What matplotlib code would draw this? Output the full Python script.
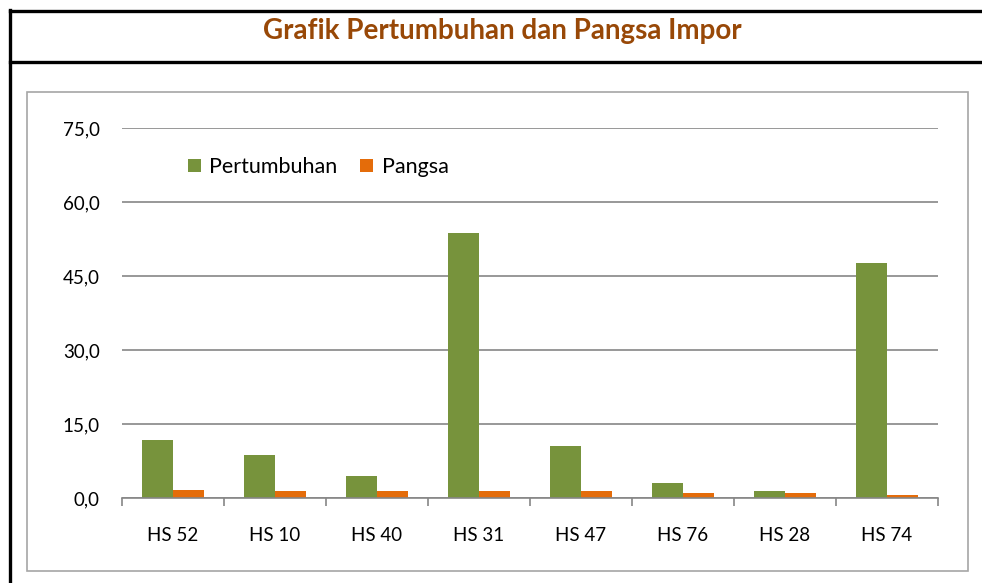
import matplotlib
matplotlib.use("Agg")
import matplotlib.pyplot as plt
from matplotlib.lines import Line2D
from matplotlib.patches import Rectangle
import numpy as np

categories = ["HS 52", "HS 10", "HS 40", "HS 31", "HS 47", "HS 76", "HS 28", "HS 74"]
pertumbuhan = [11.8, 8.8, 4.5, 53.7, 10.6, 3.1, 1.5, 47.6]
pangsa = [1.7, 1.5, 1.5, 1.5, 1.5, 1.0, 1.0, 0.6]
yticks = [0, 15, 30, 45, 60, 75]
ytick_labels = ["0,0", "15,0", "30,0", "45,0", "60,0", "75,0"]

plt.rcParams['font.family'] = ['Lato', 'DejaVu Sans']

W, H = 982, 583
fig = plt.figure(figsize=(W / 100, H / 100), dpi=100)

def fx(px):
    return px / W

def fy(py):
    return 1 - py / H

# outer black frame
fig.add_artist(Line2D([fx(10), fx(10)], [fy(10), fy(583)], color="black", lw=2.4, transform=fig.transFigure))
fig.add_artist(Line2D([fx(10), fx(982)], [fy(11), fy(11)], color="black", lw=2.4, transform=fig.transFigure))
fig.add_artist(Line2D([fx(10), fx(982)], [fy(62), fy(62)], color="black", lw=2.4, transform=fig.transFigure))

# inner gray chart border
fig.add_artist(Rectangle((fx(27), fy(571)), fx(968) - fx(27), fy(92) - fy(571),
                         fill=False, edgecolor="#A6A6A6", lw=1.2, transform=fig.transFigure))

fig.text(fx(502), fy(31), "Grafik Pertumbuhan dan Pangsa Impor", ha="center", va="center",
         fontsize=20, fontweight="bold", color="#984807")

ax = fig.add_axes([fx(122), fy(498), fx(938) - fx(122), fy(128) - fy(498)])
x = np.arange(len(categories))
bw = 0.3
ax.bar(x - bw / 2, pertumbuhan, width=bw, color="#77933C", label="Pertumbuhan", zorder=3)
ax.bar(x + bw / 2, pangsa, width=bw, color="#E46C0A", label="Pangsa", zorder=3)

ax.set_xlim(-0.5, len(categories) - 0.5)
ax.set_ylim(0, 75)
ax.set_yticks(yticks)
ax.set_yticklabels(ytick_labels, fontsize=13.5)
ax.tick_params(axis="y", length=0, pad=16)
ax.yaxis.grid(True, color="#868686", lw=1.2, zorder=0)
ax.set_axisbelow(True)

ax.set_xticks(x)
ax.set_xticklabels(categories, fontsize=13.5)
ax.tick_params(axis="x", length=0, pad=21)
ax.set_xticks(np.arange(-0.5, len(categories) + 0.5, 1), minor=True)
ax.tick_params(axis="x", which="minor", length=6, color="#868686", width=1.2, direction="out")

for s in ["top", "right", "left"]:
    ax.spines[s].set_visible(False)
ax.spines["bottom"].set_color("#868686")
ax.spines["bottom"].set_linewidth(1.2)
ax.spines["bottom"].set_zorder(4)

leg = ax.legend(loc="upper left", bbox_to_anchor=(fx(201) - fx(122), 1 - (157 - 128) / 370),
                bbox_transform=ax.transAxes, ncol=2, frameon=False, fontsize=15.5,
                handlelength=0.6, handleheight=0.6, handletextpad=0.4, columnspacing=1.05,
                borderaxespad=0, borderpad=0)

fig.savefig("out.png", dpi=100)
